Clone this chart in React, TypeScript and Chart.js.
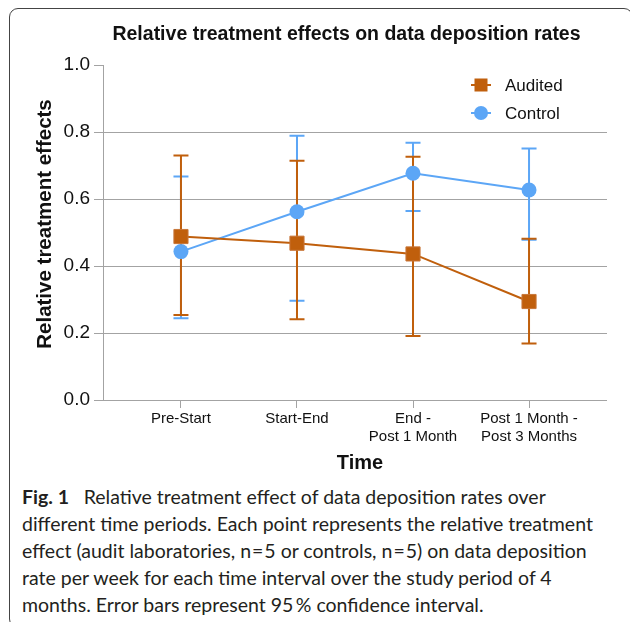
import React, { useEffect, useRef } from 'react';
import { Chart, registerables } from 'chart.js';

Chart.register(...registerables);

// ---- data ----
const categories: string[][] = [
  ['Pre-Start'],
  ['Start-End'],
  ['End -', 'Post 1 Month'],
  ['Post 1 Month -', 'Post 3 Months'],
];
const seriesNames = ['Audited', 'Control'];
const auditedValues = [0.488, 0.468, 0.436, 0.294];
const auditedUpper = [0.73, 0.714, 0.726, 0.481];
const auditedLower = [0.254, 0.241, 0.191, 0.169];
const controlValues = [0.443, 0.562, 0.677, 0.627];
const controlUpper = [0.667, 0.789, 0.768, 0.751];
const controlLower = [0.244, 0.296, 0.564, 0.478];
const yTickValues = [0, 0.2, 0.4, 0.6, 0.8, 1.0];

const chartTitle = 'Relative treatment effects on data deposition rates';
const yTitle = 'Relative treatment effects';
const xTitle = 'Time';

const ORANGE = '#C05F0C';
const BLUE = '#5CA6F6';
const GRID = '#a3a3a3';
const FONT = '"Liberation Sans", Arial, sans-serif';

const errorBarPlugin = {
  id: 'errorBars',
  beforeDatasetsDraw(chart: any) {
    const { ctx } = chart;
    const xs = chart.scales.x;
    const ys = chart.scales.y;
    const ds = chart.data.datasets;
    for (let d = ds.length - 1; d >= 0; d--) {
      const set = ds[d];
      ctx.save();
      ctx.strokeStyle = set.borderColor;
      ctx.lineWidth = 2;
      for (let i = 0; i < set.data.length; i++) {
        const px = xs.getPixelForValue(set.data[i].x);
        const pu = ys.getPixelForValue(set.errUpper[i]);
        const pl = ys.getPixelForValue(set.errLower[i]);
        ctx.beginPath();
        ctx.moveTo(px, pu);
        ctx.lineTo(px, pl);
        ctx.moveTo(px - 7.5, pu);
        ctx.lineTo(px + 7.5, pu);
        ctx.moveTo(px - 7.5, pl);
        ctx.lineTo(px + 7.5, pl);
        ctx.stroke();
      }
      ctx.restore();
    }
  },
};

const textPlugin = {
  id: 'texts',
  afterDraw(chart: any) {
    const { ctx, chartArea } = chart;
    ctx.save();
    ctx.fillStyle = '#111';
    ctx.textAlign = 'center';
    ctx.textBaseline = 'middle';
    // chart title
    ctx.font = `bold 19.5px ${FONT}`;
    ctx.fillText(chartTitle, 346.5, 35);
    // x title
    ctx.font = `bold 20px ${FONT}`;
    ctx.fillText(xTitle, 360, 463);
    // y title
    ctx.save();
    ctx.translate(45, 224);
    ctx.rotate(-Math.PI / 2);
    ctx.font = `bold 20.5px ${FONT}`;
    ctx.fillText(yTitle, 0, 0);
    ctx.restore();

    // legend
    const ds = chart.data.datasets;
    const lx = chartArea.right - 126;
    ds.forEach((set: any, k: number) => {
      const ly = chartArea.top + 20 + k * 28;
      ctx.strokeStyle = set.borderColor;
      ctx.fillStyle = set.backgroundColor;
      ctx.lineWidth = 2;
      ctx.beginPath();
      ctx.moveTo(lx - 10, ly);
      ctx.lineTo(lx + 10, ly);
      ctx.stroke();
      if (set.pointStyle === 'rect') {
        ctx.fillRect(lx - 6.5, ly - 6.5, 13, 13);
      } else {
        ctx.beginPath();
        ctx.arc(lx, ly, 7, 0, Math.PI * 2);
        ctx.fill();
      }
      ctx.fillStyle = '#111';
      ctx.textAlign = 'left';
      ctx.font = `17px ${FONT}`;
      ctx.fillText(set.label, lx + 24, ly + 1);
    });
    ctx.restore();
  },
};

function ChartView() {
  const ref = useRef<HTMLCanvasElement | null>(null);
  useEffect(() => {
    if (!ref.current) return;
    const mk = (vals: number[]) => vals.map((v, i) => ({ x: i, y: v }));
    const chart = new Chart(ref.current, {
      type: 'line',
      data: {
        datasets: [
          {
            label: seriesNames[0],
            data: mk(auditedValues),
            borderColor: ORANGE,
            backgroundColor: ORANGE,
            borderWidth: 2,
            pointStyle: 'rect',
            pointRadius: 10,
            pointBorderWidth: 1,
            pointBorderColor: '#c8773a',
            pointBackgroundColor: ORANGE,
            errUpper: auditedUpper,
            errLower: auditedLower,
          } as any,
          {
            label: seriesNames[1],
            data: mk(controlValues),
            borderColor: BLUE,
            backgroundColor: BLUE,
            borderWidth: 2,
            pointStyle: 'circle',
            pointRadius: 7.5,
            pointBorderWidth: 0,
            pointBackgroundColor: BLUE,
            errUpper: controlUpper,
            errLower: controlLower,
          } as any,
        ],
      },
      options: {
        animation: false,
        responsive: false,
        devicePixelRatio: 1,
        layout: { padding: { top: 65, right: 23, left: 0, bottom: 0 } },
        plugins: {
          legend: { display: false },
          title: { display: false },
          tooltip: { enabled: false },
        },
        scales: {
          x: {
            type: 'linear',
            min: -0.672,
            max: 3.672,
            afterBuildTicks: (s: any) => {
              s.ticks = categories.map((_, i) => ({ value: i }));
            },
            afterFit: (s: any) => {
              s.height = 80;
            },
            grid: {
              display: true,
              drawOnChartArea: false,
              drawTicks: true,
              tickLength: 8,
              color: GRID,
              tickColor: GRID,
            },
            border: { display: false },
            ticks: {
              autoSkip: false,
              maxRotation: 0,
              padding: 2,
              color: '#111',
              font: { family: FONT, size: 15, lineHeight: 1.2 },
              callback: (v: any) => {
                const c = categories[Math.round(Number(v))];
                return c ? (c.length === 1 ? c[0] : c) : '';
              },
            },
          },
          y: {
            type: 'linear',
            min: 0,
            max: 1,
            afterBuildTicks: (s: any) => {
              s.ticks = yTickValues.map((v) => ({ value: v }));
            },
            afterFit: (s: any) => {
              s.width = 103;
            },
            grid: {
              display: true,
              drawTicks: true,
              tickLength: 9,
              color: (c: any) => (c.tick && c.tick.value >= 0.999 ? 'rgba(0,0,0,0)' : GRID),
              tickColor: GRID,
            },
            border: { display: true, color: GRID },
            ticks: {
              padding: 4,
              color: '#111',
              font: { family: FONT, size: 19 },
              callback: (v: any) => Number(v).toFixed(1),
            },
          },
        },
      } as any,
      plugins: [errorBarPlugin, textPlugin],
    });
    return () => chart.destroy();
  }, []);
  return <canvas ref={ref} width={630} height={480} style={{ position: 'absolute', left: 0, top: 0, width: 630, height: 480 }} />;
}

const eq = <span style={{ margin: '0 1px' }}>=</span>;

const captionLines: React.ReactNode[] = [
  <>
    <b style={{ fontWeight: 700 }}>Fig. 1</b>
    {'\u2002 Relative treatment effect of data deposition rates over'}
  </>,
  'different time periods. Each point represents the relative treatment',
  <>
    {'effect (audit laboratories, n'}
    {eq}
    {'5 or controls, n'}
    {eq}
    {'5) on data deposition'}
  </>,
  'rate per week for each time interval over the study period of 4',
  'months. Error bars represent 95\u2009% confidence interval.',
];

export default function App() {
  return (
    <div
      style={{
        position: 'fixed',
        left: 0,
        top: 0,
        width: 630,
        height: 622,
        overflow: 'hidden',
        background: '#fff',
      }}
    >
      <div
        style={{
          position: 'absolute',
          left: 8.5,
          top: 7.5,
          width: 624,
          height: 620,
          border: '1.5px solid #444',
          borderRadius: 9,
          boxSizing: 'border-box',
        }}
      />
      <ChartView />
      <div
        style={{
          position: 'absolute',
          left: 22,
          top: 483,
          fontFamily: 'Lato, "Noto Sans", sans-serif',
          fontSize: 19.5,
          lineHeight: '27px',
          color: '#231f20',
          whiteSpace: 'nowrap',
        }}
      >
        {captionLines.map((l, i) => (
          <div key={i}>{l}</div>
        ))}
      </div>
    </div>
  );
}
